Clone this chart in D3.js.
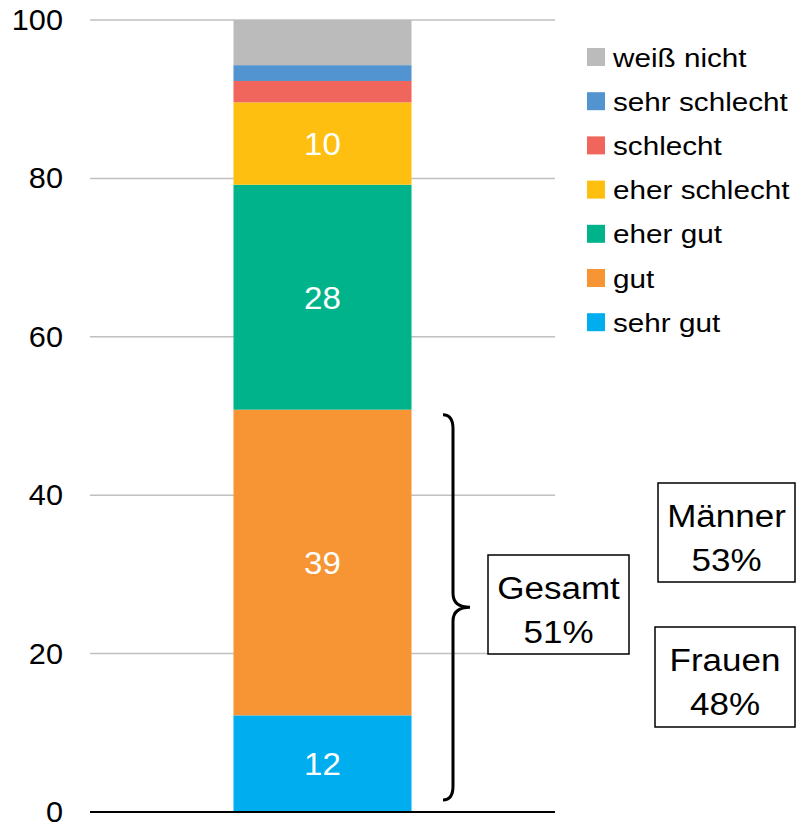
<!DOCTYPE html>
<html>
<head>
<meta charset="utf-8">
<script src="https://cdn.jsdelivr.net/npm/d3@7"></script>
<style>
  body { margin: 0; background: #fff; }
  svg { display: block; font-family: "Liberation Sans", Arial, sans-serif; }
</style>
</head>
<body>
<svg id="chart" width="796" height="825"></svg>
<script>
// categories from bottom to top of the stacked bar
const categories = ["sehr gut", "gut", "eher gut", "eher schlecht", "schlecht", "sehr schlecht", "weiß nicht"];
const values = [12.2, 38.6, 28.4, 10.4, 2.7, 2.0, 5.7];
const colors = ["#00adee", "#f79433", "#00b38a", "#febf10", "#f0665c", "#5294d0", "#bbbbbb"];
const showLabel = [true, true, true, true, false, false, false];
const yTicks = [0, 20, 40, 60, 80, 100];

// side boxes: group name and share (gut + sehr gut)
const groups = ["Gesamt", "Männer", "Frauen"];
const shares = [51, 53, 48];

const svg = d3.select("#chart");

// the text in the original is a bit wider than Arial, so stretch it horizontally
function placeText(sel, fx, fy, sx) {
  sel.attr("transform", (d) => "translate(" + fx(d) + "," + fy(d) + ") scale(" + sx + ",1)");
}

const y = d3.scaleLinear().domain([0, 100]).range([812, 20]);
const x = d3.scaleBand().domain(["all"]).range([90, 555]).paddingInner(0.4463).paddingOuter(0.4463);

// gridlines
svg.append("g")
  .selectAll("line")
  .data(yTicks.filter((d) => d > 0))
  .enter()
  .append("line")
  .attr("x1", 90)
  .attr("x2", 555)
  .attr("y1", (d) => y(d))
  .attr("y2", (d) => y(d))
  .attr("stroke", "#c0c0c0")
  .attr("stroke-width", 1.5);

// y axis labels
const yAxis = svg.append("g")
  .attr("transform", "translate(90,0)")
  .call(d3.axisLeft(y).tickValues(yTicks).tickSize(0).tickPadding(26));
yAxis.select(".domain").remove();
yAxis.selectAll("text")
  .attr("font-size", 29.5)
  .attr("font-family", "Liberation Sans, Arial, sans-serif")
  .attr("fill", "#000")
  .attr("transform", "scale(1.04,1)");

// stacked segments
let acc = 0;
const segs = values.map((v, i) => {
  const s = { name: categories[i], y0: acc, y1: acc + v, value: v, color: colors[i], label: showLabel[i] };
  acc += v;
  return s;
});

svg.append("g")
  .selectAll("rect")
  .data(segs)
  .enter()
  .append("rect")
  .attr("x", x("all"))
  .attr("width", x.bandwidth())
  .attr("y", (d) => y(d.y1))
  .attr("height", (d) => y(d.y0) - y(d.y1))
  .attr("fill", (d) => d.color);

const barLabels = svg.append("g")
  .selectAll("text")
  .data(segs.filter((d) => d.label))
  .enter()
  .append("text")
  .attr("dy", "0.36em")
  .attr("text-anchor", "middle")
  .attr("font-size", 31.5)
  .attr("fill", "#fff")
  .text((d) => Math.round(d.value));
placeText(barLabels, () => x("all") + x.bandwidth() / 2, (d) => y((d.y0 + d.y1) / 2), 1.05);

// baseline
svg.append("line")
  .attr("x1", 90)
  .attr("x2", 555)
  .attr("y1", y(0))
  .attr("y2", y(0))
  .attr("stroke", "#000")
  .attr("stroke-width", 2);

// legend (top category first)
const legend = svg.append("g")
  .selectAll("g")
  .data(segs.slice().reverse())
  .enter()
  .append("g")
  .attr("transform", (d, i) => "translate(587," + (57 + i * 44.2) + ")");
legend.append("rect")
  .attr("x", 0)
  .attr("y", -9)
  .attr("width", 18)
  .attr("height", 18)
  .attr("fill", (d) => d.color);
const legendText = legend.append("text")
  .attr("dy", "0.36em")
  .attr("font-size", 26.5)
  .attr("fill", "#000")
  .text((d) => d.name);
placeText(legendText, () => 26, () => 0, 1.12);

// curly brace over gut + sehr gut
const braceTop = y(segs[1].y1) + 5;
const braceBot = y(0) - 12;
const braceMid = (braceTop + braceBot) / 2;
const bx = 453, tip = 470, hook = 443;
const brace = d3.path();
brace.moveTo(hook, braceTop);
brace.quadraticCurveTo(bx, braceTop, bx, braceTop + 14);
brace.lineTo(bx, braceMid - 14);
brace.quadraticCurveTo(bx, braceMid, tip, braceMid);
brace.quadraticCurveTo(bx, braceMid, bx, braceMid + 14);
brace.lineTo(bx, braceBot - 14);
brace.quadraticCurveTo(bx, braceBot, hook, braceBot);
svg.append("path")
  .attr("d", brace.toString())
  .attr("fill", "none")
  .attr("stroke", "#000")
  .attr("stroke-width", 3);

// boxes with shares
const boxes = [
  { x: 488, y: 555, w: 141, h: 99 },
  { x: 658, y: 483, w: 137, h: 99 },
  { x: 655, y: 627, w: 140, h: 100 }
];
const box = svg.append("g")
  .selectAll("g")
  .data(groups.map((g, i) => ({ name: g, share: shares[i], b: boxes[i] })))
  .enter()
  .append("g");
box.append("rect")
  .attr("x", (d) => d.b.x)
  .attr("y", (d) => d.b.y)
  .attr("width", (d) => d.b.w)
  .attr("height", (d) => d.b.h)
  .attr("fill", "#fff")
  .attr("stroke", "#000")
  .attr("stroke-width", 1.5);
const boxName = box.append("text")
  .attr("dy", "0.36em")
  .attr("text-anchor", "middle")
  .attr("font-size", 31)
  .attr("fill", "#000")
  .text((d) => d.name);
placeText(boxName, (d) => d.b.x + d.b.w / 2, (d) => d.b.y + d.b.h / 2 - 17, 1.13);
const boxShare = box.append("text")
  .attr("dy", "0.36em")
  .attr("text-anchor", "middle")
  .attr("font-size", 31)
  .attr("fill", "#000")
  .text((d) => d.share + "%");
placeText(boxShare, (d) => d.b.x + d.b.w / 2, (d) => d.b.y + d.b.h / 2 + 27, 1.13);
</script>
</body>
</html>
